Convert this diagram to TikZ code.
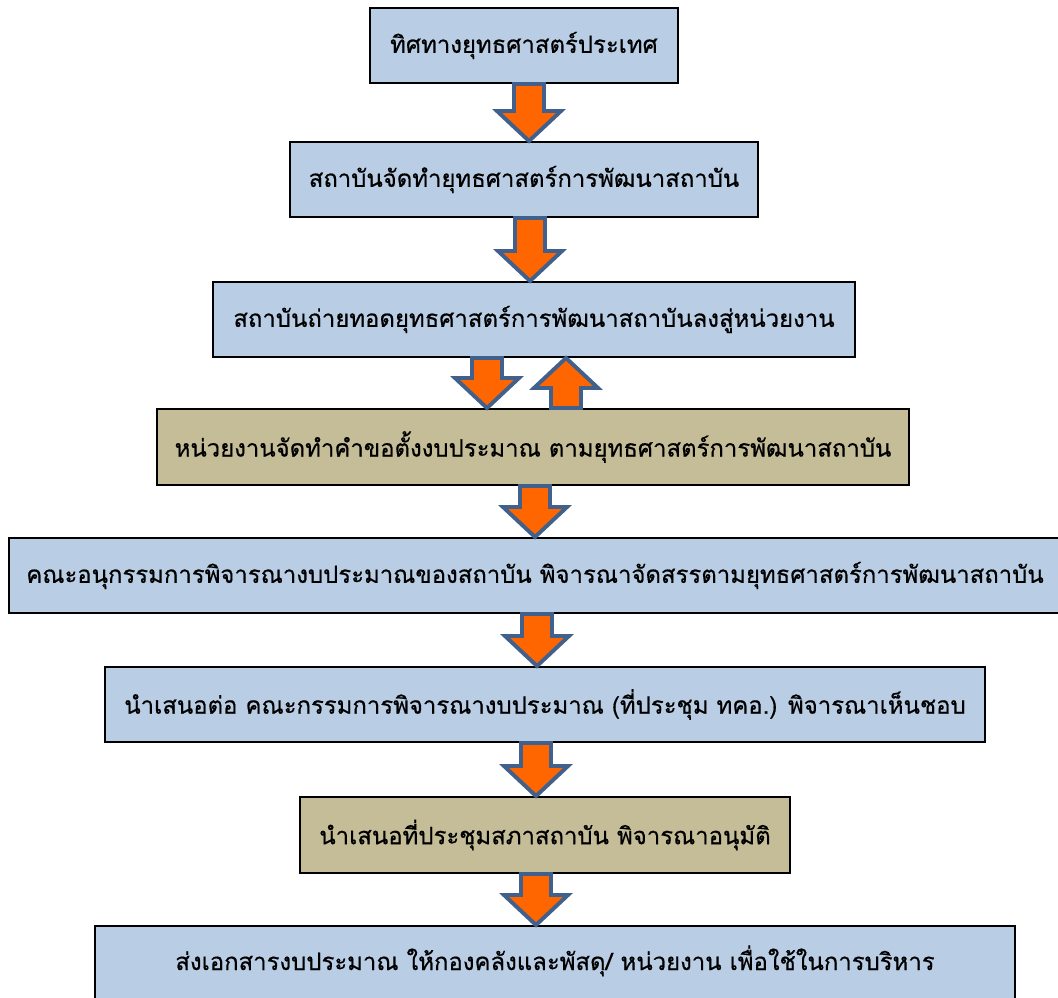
\documentclass[tikz,border=0pt]{standalone}
\usepackage{fontspec}
\newfontfamily\thaifont[Script=Thai,FakeBold=0.6]{Loma}
\usetikzlibrary{calc}
\definecolor{boxblue}{HTML}{B9CDE5}
\definecolor{boxkhaki}{HTML}{C4BD97}
\definecolor{flowfill}{HTML}{FF6600}
\definecolor{flowline}{HTML}{41618C}
\tikzset{
  stage/.style={draw=black, line width=1.4pt, fill=boxblue, inner sep=0pt,
    minimum height=1.875cm, font=\thaifont\fontsize{17}{21}\selectfont},
  unitstage/.style={stage, fill=boxkhaki},
  flow/.style={draw=flowline, fill=flowfill, line width=2.8pt, line join=miter},
}
\newcommand{\flowdown}[3]{%
  \draw[flow] ($(#1.south -| #3)+(-15,0)$) -- ($(#1.south -| #3)+(15,0)$)
    -- ($(#2.north -| #3)+(15,-30)$) -- ($(#2.north -| #3)+(32,-30)$)
    -- (#2.north -| #3) -- ($(#2.north -| #3)+(-32,-30)$)
    -- ($(#2.north -| #3)+(-15,-30)$) -- cycle;}
\newcommand{\flowup}[3]{%
  \draw[flow] ($(#1.north -| #3)+(-15,0)$) -- ($(#1.north -| #3)+(15,0)$)
    -- ($(#2.south -| #3)+(15,30)$) -- ($(#2.south -| #3)+(32,30)$)
    -- (#2.south -| #3) -- ($(#2.south -| #3)+(-32,30)$)
    -- ($(#2.south -| #3)+(-15,30)$) -- cycle;}
\begin{document}
\begin{tikzpicture}[x=0.025cm,y=-0.025cm]
        \useasboundingbox (0,0) rectangle (1058,998);
        \clip (0,0) rectangle (1058,998);

        \node[stage, minimum width=7.7cm] (direction) at (524,45.5) {ทิศทางยุทธศาสตร์ประเทศ};
        \node[stage, minimum width=11.7cm] (plan) at (524,179.5) {สถาบันจัดทำยุทธศาสตร์การพัฒนาสถาบัน};
        \node[stage, minimum width=16.05cm] (deploy) at (534,319.5) {สถาบันถ่ายทอดยุทธศาสตร์การพัฒนาสถาบันลงสู่หน่วยงาน};
        \node[unitstage, minimum width=18.8cm, minimum height=1.9cm] (request) at (533,447) {หน่วยงานจัดทำคำขอตั้งงบประมาณ ตามยุทธศาสตร์การพัฒนาสถาบัน};
        \node[stage, minimum width=26.3cm] (subcom) at (535,575.5) {คณะอนุกรรมการพิจารณางบประมาณของสถาบัน พิจารณาจัดสรรตามยุทธศาสตร์การพัฒนาสถาบัน};
        \node[stage, minimum width=22cm] (committee) at (545,704.5) {นำเสนอต่อ คณะกรรมการพิจารณางบประมาณ (ที่ประชุม ทคอ.) พิจารณาเห็นชอบ};
        \node[unitstage, minimum width=12.25cm, minimum height=1.9cm] (council) at (545,835) {นำเสนอที่ประชุมสภาสถาบัน พิจารณาอนุมัติ};
        \node[stage, minimum width=23cm, minimum height=0pt, anchor=north,
          text height=1.1cm, text depth=2cm] (dispatch) at (555,925) {ส่งเอกสารงบประมาณ ให้กองคลังและพัสดุ/ หน่วยงาน เพื่อใช้ในการบริหาร};

        \coordinate (x1) at (529,0);
        \coordinate (x2) at (530,0);
        \coordinate (xd) at (487,0);
        \coordinate (xu) at (566,0);
        \coordinate (x4) at (535,0);
        \coordinate (x5) at (537,0);
        \coordinate (x6) at (536,0);

        \flowdown{direction}{plan}{x1}
        \flowdown{plan}{deploy}{x2}
        \flowdown{deploy}{request}{xd}
        \flowup{request}{deploy}{xu}
        \flowdown{request}{subcom}{x4}
        \flowdown{subcom}{committee}{x5}
        \flowdown{committee}{council}{x6}
        \flowdown{council}{dispatch}{x6}
      \end{tikzpicture}
\end{document}
